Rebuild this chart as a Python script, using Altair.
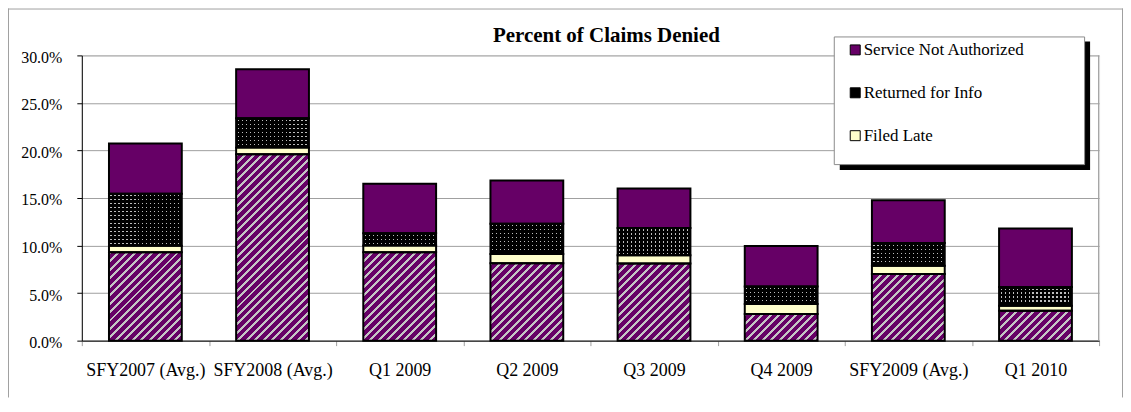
import altair as alt
import pandas as pd

# ---------------- data ----------------
periods = ["SFY2007 (Avg.)", "SFY2008 (Avg.)", "Q1 2009", "Q2 2009",
           "Q3 2009", "Q4 2009", "SFY2009 (Avg.)", "Q1 2010"]
other_pct = [9.3, 19.6, 9.3, 8.15, 8.1, 2.8, 7.0, 3.15]
filed_late_pct = [0.68, 0.7, 0.7, 0.95, 0.87, 1.05, 0.88, 0.53]
returned_pct = [5.46, 3.1, 1.3, 3.2, 2.88, 1.85, 2.38, 1.96]
not_auth_pct = [5.3, 5.15, 5.2, 4.55, 4.15, 4.25, 4.5, 6.15]

series_names = ["Other", "Filed Late", "Returned for Info", "Service Not Authorized"]
legend_names = ["Service Not Authorized", "Returned for Info", "Filed Late"]
y_ticks = [0.0, 0.05, 0.10, 0.15, 0.20, 0.25, 0.30]
title_text = ["Percent of Claims Denied"]

# ---------------- layout / style ----------------
PW, PH = 1020, 286
PAD_L, PAD_T, PAD_R, PAD_B = 74, 47, 24, 57
Y_MAX = 0.30
BAR = 73
PURPLE = "#660066"
HATCH_GRAY = "#c4c4c4"
YELLOW = "#ffffcc"
GRID = "#a0a0a0"
FONT = "Liberation Serif"

rows = []
for i, p in enumerate(periods):
    cum = 0.0
    for k, (s, vals) in enumerate(zip(series_names,
                                      [other_pct, filed_late_pct, returned_pct, not_auth_pct])):
        v = vals[i] / 100.0
        rows.append({"period": p, "series": s, "start": cum, "end": cum + v, "order": k})
        cum += v
df = pd.DataFrame(rows)

px_per_unit = PH / Y_MAX


def hatch_gradient(w, h, period=8.5, gray=3.0):
    L = w + h
    stops = []
    k = 0
    while k * period < L:
        a = k * period / L
        b = min((k * period + gray) / L, 1.0)
        c = min((k + 1) * period / L, 1.0)
        stops += [(a, HATCH_GRAY), (b, HATCH_GRAY), (b, PURPLE), (c, PURPLE)]
        k += 1
    d = w * w + h * h
    return {
        "gradient": "linear",
        "x1": 0, "y1": 0,
        "x2": round(w * L / d, 6), "y2": round(h * L / d, 6),
        "stops": [{"offset": round(o, 5), "color": col} for o, col in stops],
    }


def line_gradient(length, horizontal, base, line, spacing=4.0, lw=1.1, start=1.5):
    stops = [(0.0, base)]
    pos = start
    while pos + lw < length - 0.5:
        a = pos / length
        b = (pos + lw) / length
        stops += [(a, base), (a, line), (b, line), (b, base)]
        pos += spacing
    stops.append((1.0, base))
    g = {"gradient": "linear", "x1": 0, "y1": 0,
         "x2": 1 if horizontal else 0, "y2": 0 if horizontal else 1}
    g["stops"] = [{"offset": round(o, 5), "color": c} for o, c in stops]
    return g


x_enc = alt.X(
    "period:N", sort=periods,
    scale=alt.Scale(domain=periods, paddingInner=0, paddingOuter=0),
    axis=alt.Axis(title=None, labelAngle=0, tickBand="extent", grid=False,
                  domainColor="black", tickColor=GRID, tickSize=5,
                  labelFont=FONT, labelFontSize=18, labelColor="black",
                  labelPadding=16),
)
y_enc = alt.Y(
    "start:Q",
    scale=alt.Scale(domain=[0, Y_MAX], nice=False, zero=True),
    axis=alt.Axis(title=None, values=y_ticks, format=".1%", grid=True,
                  gridColor=GRID, domainColor="black", tickColor="black",
                  tickSize=5, labelFont=FONT, labelFontSize=16,
                  labelColor="black", labelPadding=15, labelOffset=2),
)
y2_enc = alt.Y2("end:Q")

layers = []

base = alt.Chart(df).mark_bar(size=BAR).encode(
    x=x_enc, y=y_enc, y2=y2_enc,
    color=alt.Color(
        "series:N",
        scale=alt.Scale(domain=legend_names + ["Other"],
                        range=[PURPLE, "#000000", YELLOW, PURPLE]),
        legend=alt.Legend(values=legend_names, title=None, orient="none",
                          legendX=767, legendY=-14, direction="vertical",
                          symbolType="square", symbolSize=100,
                          symbolStrokeColor="black", symbolStrokeWidth=1,
                          symbolOpacity=1, labelFont=FONT, labelFontSize=17,
                          labelColor="black", labelOffset=0, rowPadding=25,
                          labelLimit=400, padding=0),
    ),
)
layers.append(base)

# hatched bottom segments
for i, p in enumerate(periods):
    h = other_pct[i] / 100.0 * px_per_unit
    layers.append(
        alt.Chart(df)
        .transform_filter((alt.datum.period == p) & (alt.datum.series == "Other"))
        .mark_bar(size=BAR, fill=hatch_gradient(BAR, h))
        .encode(x=x_enc, y=y_enc, y2=y2_enc)
    )

# dotted "Returned for Info" segments
layers.append(
    alt.Chart(df)
    .transform_filter(alt.datum.series == "Returned for Info")
    .mark_bar(size=BAR, fill=line_gradient(BAR, True, "#000000", "#bdbdbd"))
    .encode(x=x_enc, y=y_enc, y2=y2_enc)
)
for i, p in enumerate(periods):
    h = returned_pct[i] / 100.0 * px_per_unit
    layers.append(
        alt.Chart(df)
        .transform_filter((alt.datum.period == p) & (alt.datum.series == "Returned for Info"))
        .mark_bar(size=BAR, fill=line_gradient(h, False, "#000000", "rgba(0,0,0,0)"))
        .encode(x=x_enc, y=y_enc, y2=y2_enc)
    )

# outlines
layers.append(
    alt.Chart(df).mark_bar(size=BAR, fillOpacity=0, stroke="black", strokeWidth=2)
    .encode(x=x_enc, y=y_enc, y2=y2_enc)
)

dummy = pd.DataFrame({"k": [0]})
# plot right border
layers.append(alt.Chart(dummy).mark_rule(color=GRID).encode(
    x=alt.value(PW - 0.5), y=alt.value(0), y2=alt.value(PH)))
# outer chart border (left, top, right)
layers.append(alt.Chart(dummy).mark_rule(color=GRID).encode(
    x=alt.value(-PAD_L + 0.5), y=alt.value(-PAD_T), y2=alt.value(PH + PAD_B)))
layers.append(alt.Chart(dummy).mark_rule(color=GRID).encode(
    x=alt.value(-PAD_L), x2=alt.value(PW + PAD_R), y=alt.value(-PAD_T + 0.5)))
layers.append(alt.Chart(dummy).mark_rule(color=GRID).encode(
    x=alt.value(PW + PAD_R - 0.5), y=alt.value(-PAD_T), y2=alt.value(PH + PAD_B)))
# legend frame with shadow
layers.append(alt.Chart(dummy).mark_rect(color="black").encode(
    x=alt.value(760), x2=alt.value(1011), y=alt.value(-14), y2=alt.value(115)))
layers.append(alt.Chart(dummy).mark_rect(fill="white", stroke="#8c8c8c", strokeWidth=1).encode(
    x=alt.value(754.5), x2=alt.value(1005.5), y=alt.value(-18.5), y2=alt.value(109.5)))
# chart title
title_df = pd.DataFrame({"title": title_text})
layers.append(alt.Chart(title_df).mark_text(
    font=FONT, fontSize=21, fontWeight="bold", color="black",
    align="center", baseline="alphabetic").encode(
    text="title:N", x=alt.value(526), y=alt.value(-13)))

chart = alt.layer(*layers).properties(
    width=PW, height=PH,
    padding={"left": PAD_L, "top": PAD_T, "right": PAD_R, "bottom": PAD_B},
    autosize=alt.AutoSizeParams(type="none"),
).configure_view(strokeWidth=0).configure(background="white")

chart.save("out.html", embed_options={"renderer": "svg", "actions": False})
